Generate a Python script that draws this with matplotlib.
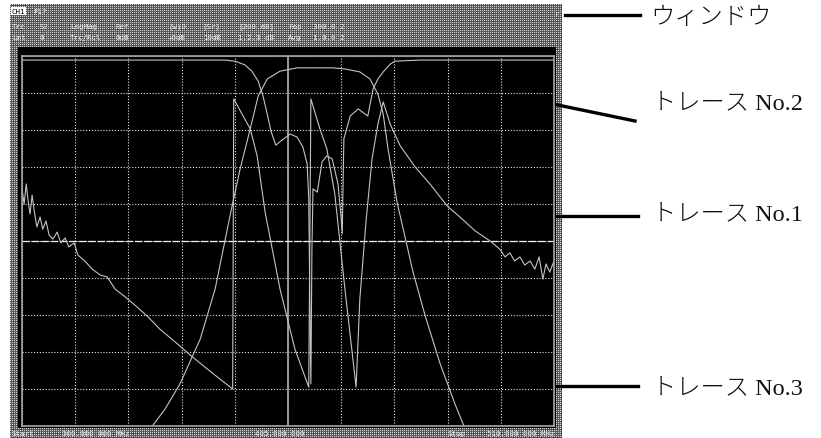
import numpy as np
import matplotlib
matplotlib.use("Agg")
import matplotlib.pyplot as plt
from matplotlib.patches import Rectangle

# screen traces, in grid divisions (10 x 10)
trace1_x = [2.41, 2.69, 2.97, 3.35, 3.63, 3.91, 4.10, 4.29, 4.44, 4.61, 4.85, 5.17, 5.83,
            6.07, 6.35, 6.54, 6.69, 6.79, 6.88, 7.05, 7.35, 7.58, 7.86, 8.14, 8.33]
trace1_y = [-0.08, 0.46, 1.14, 2.35, 3.70, 5.68, 6.95, 8.03, 8.92, 9.38, 9.59, 9.68, 9.68,
            9.65, 9.57, 9.38, 8.97, 8.43, 7.49, 6.05, 4.16, 2.97, 1.68, 0.59, -0.08]

trace2_x = [0, 3.82, 4.00, 4.19, 4.32, 4.44, 4.53, 4.61, 4.68, 4.77, 4.89, 5.04, 5.17, 5.28,
            5.36, 5.39, 5.41, 5.43, 5.45, 5.47, 5.55, 5.64, 5.73, 5.83, 5.94, 6.00, 6.02,
            6.03, 6.05, 6.17, 6.32, 6.45, 6.50, 6.60, 6.69, 6.79, 6.92, 7.01, 7.48, 10.0]
trace2_y = [9.89, 9.89, 9.86, 9.76, 9.59, 9.32, 8.92, 8.43, 7.97, 7.59, 7.73, 7.89, 7.81, 7.54,
            7.08, 6.14, 3.43, 1.14, 4.78, 6.41, 6.32, 7.14, 7.30, 7.22, 6.54, 5.60, 5.20,
            6.14, 7.76, 8.38, 8.57, 8.43, 8.38, 9.11, 9.38, 9.57, 9.78, 9.86, 9.89, 9.89]

trace3_x = [0, 0.04, 0.08, 0.11, 0.15, 0.19, 0.23, 0.28, 0.34, 0.39, 0.45, 0.51, 0.58, 0.66,
            0.73, 0.81, 0.88, 0.98, 1.05, 1.18, 1.32, 1.47, 1.60, 1.75, 1.94, 2.12, 2.37,
            2.59, 2.88, 3.16, 3.44, 3.72, 3.96, 3.98, 4.29, 4.42, 4.57, 4.85, 5.13, 5.39,
            5.43, 5.60, 5.73, 5.88, 6.07, 6.28, 6.35, 6.47, 6.58, 6.69, 6.79, 6.92, 7.11,
            7.39, 7.67, 7.99, 8.23, 8.52, 8.80, 8.98, 9.08, 9.17, 9.26, 9.36, 9.45, 9.55,
            9.64, 9.72, 9.79, 9.85, 9.92, 10.0]
trace3_y = [6.41, 6.00, 6.54, 6.14, 5.73, 6.24, 5.81, 5.38, 5.65, 5.32, 5.54, 5.16, 5.05, 5.24,
            4.95, 5.08, 4.84, 4.95, 4.62, 4.46, 4.24, 4.08, 4.03, 3.70, 3.49, 3.27, 2.95,
            2.62, 2.27, 1.92, 1.59, 1.27, 1.00, 8.84, 8.03, 7.30, 5.78, 3.70, 2.08, 1.05,
            8.84, 8.03, 7.49, 6.27, 3.70, 1.05, 3.43, 5.59, 7.22, 8.16, 8.76, 8.16, 7.57,
            7.00, 6.54, 5.95, 5.65, 5.27, 5.00, 4.78, 4.57, 4.68, 4.46, 4.57, 4.35, 4.46,
            4.24, 4.57, 3.97, 4.38, 4.16, 4.46]

callout_labels = ["ウィンドウ", "トレース No.2", "トレース No.1", "トレース No.3"]

W, H = 821, 439
fig = plt.figure(figsize=(W / 100, H / 100), dpi=100)
fig.patch.set_facecolor("white")

# background layer in pixel units
bg = fig.add_axes([0, 0, 1, 1])
bg.set_xlim(0, W)
bg.set_ylim(H, 0)
bg.axis("off")

# dithered gray frame of the analyzer screen
rows, cols = 434, 552
ii, jj = np.indices((rows, cols))
dither = np.full((rows, cols), 0.36)
dither[(ii % 2 == 0) & (jj % 2 == 0)] = 0.82
dither[(ii % 4 == 1) & (jj % 4 == 3)] = 0.15
bg.imshow(dither, cmap="gray", vmin=0, vmax=1, extent=(10, 562, 439, 5),
          interpolation="nearest", aspect="auto", zorder=0)
bg.add_patch(Rectangle((18, 48), 538, 381, facecolor="black", edgecolor="none", zorder=1))

mono = dict(family="DejaVu Sans Mono", fontsize=5.4, color="#f2f2f2", zorder=3)
bg.text(12, 12, "CH1", va="center", ha="left", family="DejaVu Sans Mono", fontsize=5.4,
        color="black", bbox=dict(facecolor="white", edgecolor="none", pad=0.6), zorder=3)
bg.text(33, 12, "F1?", va="center", **mono)
hdr2 = [(12, "Trc"), (40, "S?"), (70, "LogMag"), (115, "Ref"), (168, "(w)D"),
        (203, "(Sr)"), (238, "[200.dB]"), (288, "Fop"), (313, "300.0 2")]
hdr3 = [(12, "Lmt"), (40, "0"), (70, "Trc/Rcl"), (115, "0dB"), (168, "+0dB"),
        (203, "10dB"), (238, "1.2.3 dB"), (288, "Avg"), (313, "1.0.0 2")]
for x, s in hdr2:
    bg.text(x, 27, s, va="center", **mono)
for x, s in hdr3:
    bg.text(x, 38, s, va="center", **mono)
bg.text(557, 14, "r", va="center", ha="center", **mono)

bg.text(12, 434, "Start", va="center", **mono)
bg.text(62, 434, "300.000 000 MHz", va="center", **mono)
bg.text(255, 434, "405.000 000", va="center", **mono)
bg.text(447, 434, "Stop", va="center", **mono)
bg.text(487, 434, "510.000 000 MHz", va="center", **mono)

# measurement grid
ax = fig.add_axes([22 / W, 12 / H, 532 / W, 370 / H])
ax.set_facecolor("black")
ax.set_xlim(0, 10)
ax.set_ylim(0, 10)
ax.set_xticks(range(11))
ax.set_yticks(range(11))
ax.tick_params(length=0, labelbottom=False, labelleft=False)
ax.grid(True, color="#e6e6e6", linestyle=(0, (1, 1.6)), linewidth=0.8)
for sp in ax.spines.values():
    sp.set_color("#a8a8a8")
    sp.set_linewidth(1.2)
ax.axvline(5, color="#9a9a9a", lw=1.4)
ax.axhline(5, color="#f0f0f0", lw=0.9, linestyle=(0, (6, 1.5)))

ax.plot(trace1_x, trace1_y, color="#c4c4c4", lw=0.8)
ax.plot(trace2_x, trace2_y, color="#c4c4c4", lw=0.8)
ax.plot(trace3_x, trace3_y, color="#c4c4c4", lw=0.8)

# callouts
bg.plot([565, 640], [16, 16], color="black", lw=2.4)
bg.plot([553, 635], [105, 122], color="black", lw=2.4)
bg.plot([553, 638], [217, 217], color="black", lw=2.4)
bg.plot([553, 638], [387, 387], color="black", lw=2.4)

lab = dict(family=["Liberation Serif", "Noto Sans CJK JP"], fontsize=17.5,
           weight="light", color="#111111", va="center", ha="left")
bg.text(650, 18, callout_labels[0], **lab)
bg.text(652, 104, callout_labels[1], **lab)
bg.text(652, 215, callout_labels[2], **lab)
bg.text(652, 389, callout_labels[3], **lab)

fig.savefig("out.png", dpi=100)
